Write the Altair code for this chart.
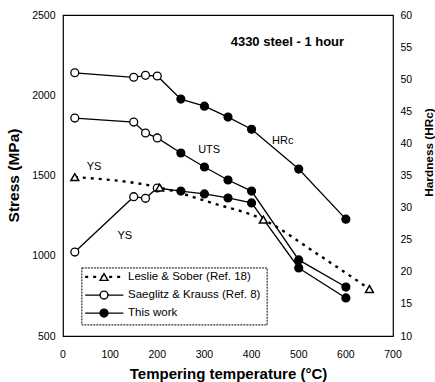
import altair as alt
import pandas as pd

# ---- data ----
temps_sk = [25, 150, 175, 200]                 # Saeglitz & Krauss (open circles)
temps_tw = [250, 300, 350, 400, 500, 600]      # This work (filled circles)
hrc_sk = [51.0, 50.3, 50.6, 50.5]
hrc_tw = [46.9, 45.8, 44.1, 42.2, 36.0, 28.2]
uts_sk = [1858, 1833, 1765, 1734]
uts_tw = [1640, 1553, 1472, 1403, 974, 805]
ys_sk = [1023, 1368, 1358, 1422]
ys_tw = [1403, 1385, 1360, 1329, 924, 737]
leslie_curve_t = [25, 205, 315, 425, 540, 650]     # Leslie & Sober YS (dashed curve)
leslie_curve_ys = [1490, 1425, 1330, 1225, 1010, 793]
leslie_mark_t = [25, 205, 425, 650]                # visible triangles
leslie_mark_ys = [1490, 1425, 1225, 793]

x_ticks = [0, 100, 200, 300, 400, 500, 600, 700]
stress_ticks = [500, 1000, 1500, 2000, 2500]
hrc_ticks = [10, 15, 20, 25, 30, 35, 40, 45, 50, 55, 60]

legend_labels = ["Leslie & Sober (Ref. 18)", "Saeglitz & Krauss (Ref. 8)", "This work"]
legend_y = [868, 755, 643]
legend_fill = ["white", "white", "black"]
legend_shape = ["triangle-up", "circle", "circle"]

ann_text = ["YS", "YS", "UTS", "HRc"]
ann_t = [66, 131, 310, 466]
ann_s = [1553, 1120, 1659, 1712]
title_text = ["4330 steel - 1 hour"]

FONT = "Liberation Sans"

# ---- tables ----
rows = []
for prop, sk, tw in [("UTS", uts_sk, uts_tw), ("YS", ys_sk, ys_tw)]:
    for t, v in zip(temps_sk, sk):
        rows.append({"temp": t, "stress": v, "prop": prop, "fill": "white"})
    for t, v in zip(temps_tw, tw):
        rows.append({"temp": t, "stress": v, "prop": prop, "fill": "black"})
stress_df = pd.DataFrame(rows)

hrows = []
for t, v in zip(temps_sk, hrc_sk):
    hrows.append({"temp": t, "hrc": v, "fill": "white"})
for t, v in zip(temps_tw, hrc_tw):
    hrows.append({"temp": t, "hrc": v, "fill": "black"})
hrc_df = pd.DataFrame(hrows)

les_df = pd.DataFrame({"temp": leslie_curve_t, "stress": leslie_curve_ys})
les_mk = pd.DataFrame({"temp": leslie_mark_t, "stress": leslie_mark_ys})
ann_df = pd.DataFrame({"text": ann_text, "temp": ann_t, "stress": ann_s})
title_df = pd.DataFrame({"text": title_text, "temp": [476], "stress": [2332]})
leg_df = pd.DataFrame({
    "label": legend_labels, "stress": legend_y, "fill": legend_fill,
    "shape": legend_shape, "temp": [47] * 3, "x2": [128] * 3,
    "xs": [87] * 3, "xt": [138] * 3, "row": [0, 1, 2],
})
box_df = pd.DataFrame({"temp": [40], "x2": [433], "stress": [924], "y2": [569]})
xlab_df = pd.DataFrame({"tick": x_ticks[1:], "lab": [str(v) for v in x_ticks[1:]]})
xlab0_df = pd.DataFrame({"lab": [str(x_ticks[0])]})

xsc = alt.Scale(domain=[x_ticks[0], x_ticks[-1]], nice=False)
ysc = alt.Scale(domain=[stress_ticks[0], stress_ticks[-1]], nice=False)
hsc = alt.Scale(domain=[hrc_ticks[0], hrc_ticks[-1]], nice=False)
fillsc = alt.Scale(domain=["white", "black"], range=["white", "black"])

common = dict(grid=False, tickSize=0, domain=False, labelFontSize=10.5,
              titleFontWeight="bold", titleBaseline="middle", labelFlush=False,
              labelOverlap=False, labelBound=False)
x_axis = alt.Axis(values=x_ticks, labels=False, title="Tempering temperature (°C)",
                  titleFontSize=15, titleY=37, **common)
y_axis = alt.Axis(values=stress_ticks, title="Stress (MPa)", format="d",
                  labelPadding=8, titleFontSize=15.5, titleX=-49.5, titleY=160,
                  titleAngle=270, **common)
h_axis = alt.Axis(values=hrc_ticks, title="Hardness (HRc)", orient="right", format="d",
                  labelPadding=7, titleFontSize=11.8, titleAngle=270, titleX=35,
                  titleY=137, **common)


def X(f="temp"):
    return alt.X(f + ":Q", scale=xsc, axis=x_axis)


def Y(f="stress"):
    return alt.Y(f + ":Q", scale=ysc, axis=y_axis)


PT = 62

stress_lines = alt.Chart(stress_df).mark_line(color="black", strokeWidth=1.3).encode(
    x=X(), y=Y(), detail="prop:N")
stress_pts = alt.Chart(stress_df).mark_point(shape="circle", size=PT, stroke="black",
                                             strokeWidth=1.3, opacity=1).encode(
    x=X(), y=Y(), fill=alt.Fill("fill:N", scale=fillsc, legend=None))
les_line = alt.Chart(les_df).mark_line(color="black", strokeWidth=2.4,
                                       strokeDash=[3, 5], interpolate="monotone").encode(
    x=X(), y=Y())
les_pts = alt.Chart(les_mk).mark_point(shape="triangle-up", size=PT, stroke="black",
                                       strokeWidth=1.5, fill="white", opacity=1).encode(
    x=X(), y=Y())
ann = alt.Chart(ann_df).mark_text(font=FONT, fontSize=11, color="black").encode(
    x=X(), y=Y(), text="text:N")
ttl = alt.Chart(title_df).mark_text(font=FONT, fontSize=13, fontWeight="bold",
                                    color="black").encode(x=X(), y=Y(), text="text:N")

box = alt.Chart(box_df).mark_rect(fill="white", stroke="black", strokeWidth=1,
                                  strokeDash=[2, 1]).encode(
    x=X(), x2="x2:Q", y=Y(), y2="y2:Q")
leg_dash = alt.Chart(leg_df).transform_filter("datum.row == 0").mark_rule(
    color="black", strokeWidth=2.2, strokeDash=[3, 5]).encode(
    x=X(), x2="x2:Q", y=Y())
leg_solid = alt.Chart(leg_df).transform_filter("datum.row > 0").mark_rule(
    color="black", strokeWidth=1.3).encode(
    x=X(), x2="x2:Q", y=Y())
leg_sym = alt.Chart(leg_df).mark_point(size=PT, stroke="black", strokeWidth=1.4,
                                       opacity=1).encode(
    x=X("xs"), y=Y(),
    shape=alt.Shape("shape:N", scale=None, legend=None),
    fill=alt.Fill("fill:N", scale=fillsc, legend=None))
leg_txt = alt.Chart(leg_df).mark_text(font=FONT, fontSize=11.5, align="left",
                                      color="black").encode(
    x=X("xt"), y=Y(), text="label:N")

# x tick labels (placed just below the plot frame)
xlabs = alt.Chart(xlab_df).mark_text(font=FONT, fontSize=10.5, baseline="middle",
                                     color="black").encode(
    x=X("tick"), y=alt.value(340), text="lab:N")
# first tick label sits on the plot's left edge
xlab0 = alt.Chart(xlab0_df).mark_text(font=FONT, fontSize=10.5, baseline="middle",
                                      color="black").encode(
    x=alt.value(0), y=alt.value(340), text="lab:N")

left = alt.layer(stress_lines, les_line, stress_pts, les_pts, ann, ttl,
                 box, leg_dash, leg_solid, leg_sym, leg_txt, xlabs, xlab0)

hrc_line = alt.Chart(hrc_df).mark_line(color="black", strokeWidth=1.3).encode(
    x=X(), y=alt.Y("hrc:Q", scale=hsc, axis=h_axis))
hrc_pts = alt.Chart(hrc_df).mark_point(shape="circle", size=PT, stroke="black",
                                       strokeWidth=1.3, opacity=1).encode(
    x=X(), y=alt.Y("hrc:Q", scale=hsc, axis=h_axis),
    fill=alt.Fill("fill:N", scale=fillsc, legend=None))
right = alt.layer(hrc_line, hrc_pts)

chart = alt.layer(left, right).resolve_scale(y="independent", fill="shared").properties(
    width=330, height=321,
    autosize=alt.AutoSizeParams(type="none"),
    padding={"left": 63, "top": 15, "right": 42, "bottom": 46},
    background="white",
).configure_view(stroke="black", strokeWidth=1.2).configure_axis(
    labelFont=FONT, titleFont=FONT, labelColor="black", titleColor="black")

chart.save("out.html", embed_options={"renderer": "svg", "actions": False})
